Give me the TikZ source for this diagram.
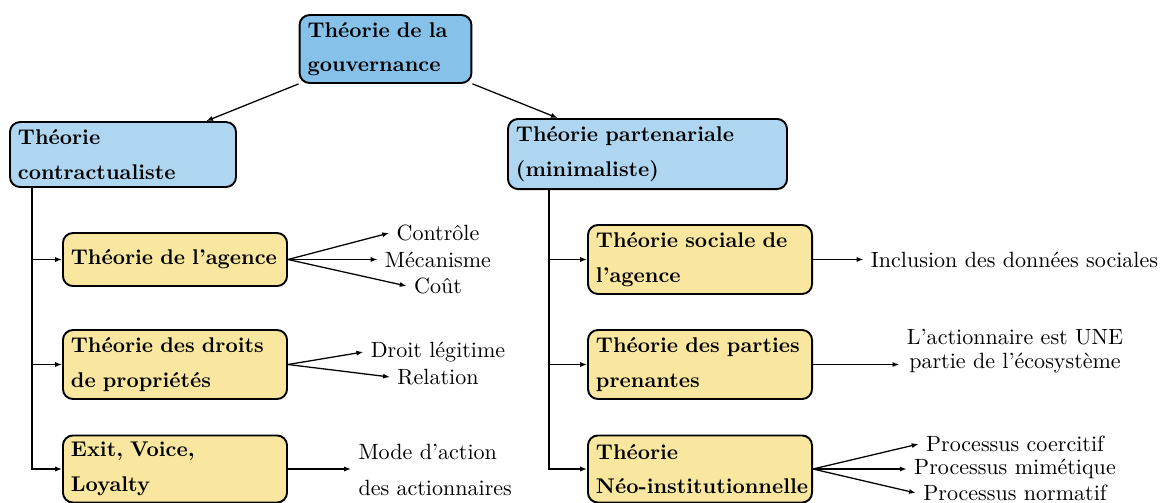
\documentclass[tikz,border=0pt]{standalone}
\usetikzlibrary{arrows.meta,calc}
\definecolor{topblue}{RGB}{133,193,233}
\definecolor{lightblue}{RGB}{174,214,241}
\definecolor{paleyellow}{RGB}{249,231,159}
\newcommand{\pxu}{0.4695pt}
\tikzset{
  box/.style={draw, line width=0.9pt, rounded corners=4.7pt, align=left,
    inner xsep=3.75pt, inner ysep=2pt, font=\bfseries\linespread{1.35}\selectfont},
  ybox/.style={box, fill=paleyellow, text width=97.7pt, minimum height=32.4pt},
  arr/.style={-{Latex[length=3.2pt,width=2.4pt]}, line width=0.6pt},
  leaf/.style={inner sep=3.33pt, font=\fontsize{10.35}{12.4}\selectfont},
}
\begin{document}
\begin{tikzpicture}[x=\pxu, y=-\pxu]
\useasboundingbox (0,0) rectangle (1160,502);

% main boxes
\node[box, fill=topblue, text width=73.2pt, minimum height=31.9pt] (top) at (385.5,49) {Théorie de la\\gouvernance};
\node[box, fill=lightblue, text width=98.6pt, minimum height=30.5pt] (lb) at (123,154.5) {Théorie\\contractualiste};
\node[box, fill=lightblue, text width=123.5pt, minimum height=32.9pt] (rb) at (647.5,154) {Théorie partenariale\\(minimaliste)};

% yellow boxes left
\node[ybox, minimum height=24.9pt] (y1) at (175,259.5) {Théorie~de~l’agence};
\node[ybox] (y2) at (175,364.5) {Théorie des droits\\de propriétés};
\node[ybox, minimum height=31.5pt] (y3) at (175,469) {Exit, Voice,\\Loyalty};

% yellow boxes right
\node[ybox] (z1) at (700,259.5) {Théorie sociale de\\l’agence};
\node[ybox] (z2) at (700,364.5) {Théorie des parties\\prenantes};
\node[ybox, minimum height=31.5pt] (z3) at (700,469) {Théorie\\\mbox{Néo-institutionnelle}};

% leaves left
\node[leaf] (c1) at (438,233) {Contrôle};
\node[leaf] (c2) at (438,259.5) {Mécanisme};
\node[leaf] (c3) at (438,286) {Coût};
\node[leaf] (d1) at (438,352) {Droit légitime};
\node[leaf] (d2) at (438,377) {Relation};
\node[leaf, anchor=west, align=left, font=\fontsize{10.35}{12.4}\selectfont\linespread{1.35}\selectfont] (e1) at (351,470) {Mode d’action\\des actionnaires};

% leaves right
\node[leaf] (f1) at (1014.5,259.5) {Inclusion des données sociales};
\node[leaf, align=center, font=\fontsize{10.35}{11.2}\selectfont] (g1) at (1015,351.5) {L’actionnaire est UNE\\partie de l’écosystème};
\node[leaf] (h1) at (1015,444) {Processus coercitif};
\node[leaf] (h2) at (1015,469) {Processus mimétique};
\node[leaf] (h3) at (1015,493) {Processus normatif};

% top arrows
\draw[arr] (top) -- (lb);
\draw[arr] (top) -- (rb);

% left tree
\coordinate (lv) at (32,187);
\draw[arr] (lv) |- (y3.west);
\draw[arr] (lv |- y1.west) -- (y1.west);
\draw[arr] (lv |- y2.west) -- (y2.west);

% right tree
\coordinate (rv) at (549,189);
\draw[arr] (rv) |- (z3.west);
\draw[arr] (rv |- z1.west) -- (z1.west);
\draw[arr] (rv |- z2.west) -- (z2.west);

% leaf arrows left
\draw[arr] (y1.east) -- (c1.west);
\draw[arr] (y1.east) -- (c2.west);
\draw[arr] (y1.east) -- (c3.west);
\draw[arr] (y2.east) -- (d1.west);
\draw[arr] (y2.east) -- (d2.west);
\draw[arr] (y3.east) -- (y3.east -| e1.west);

% leaf arrows right
\draw[arr] (z1.east) -- (f1.west);
\draw[arr] (z2.east) -- (z2.east -| g1.west);
\draw[arr] (z3.east) -- (h1.west);
\draw[arr] (z3.east) -- (h2.west);
\draw[arr] (z3.east) -- (h3.west);
\end{tikzpicture}
\end{document}
